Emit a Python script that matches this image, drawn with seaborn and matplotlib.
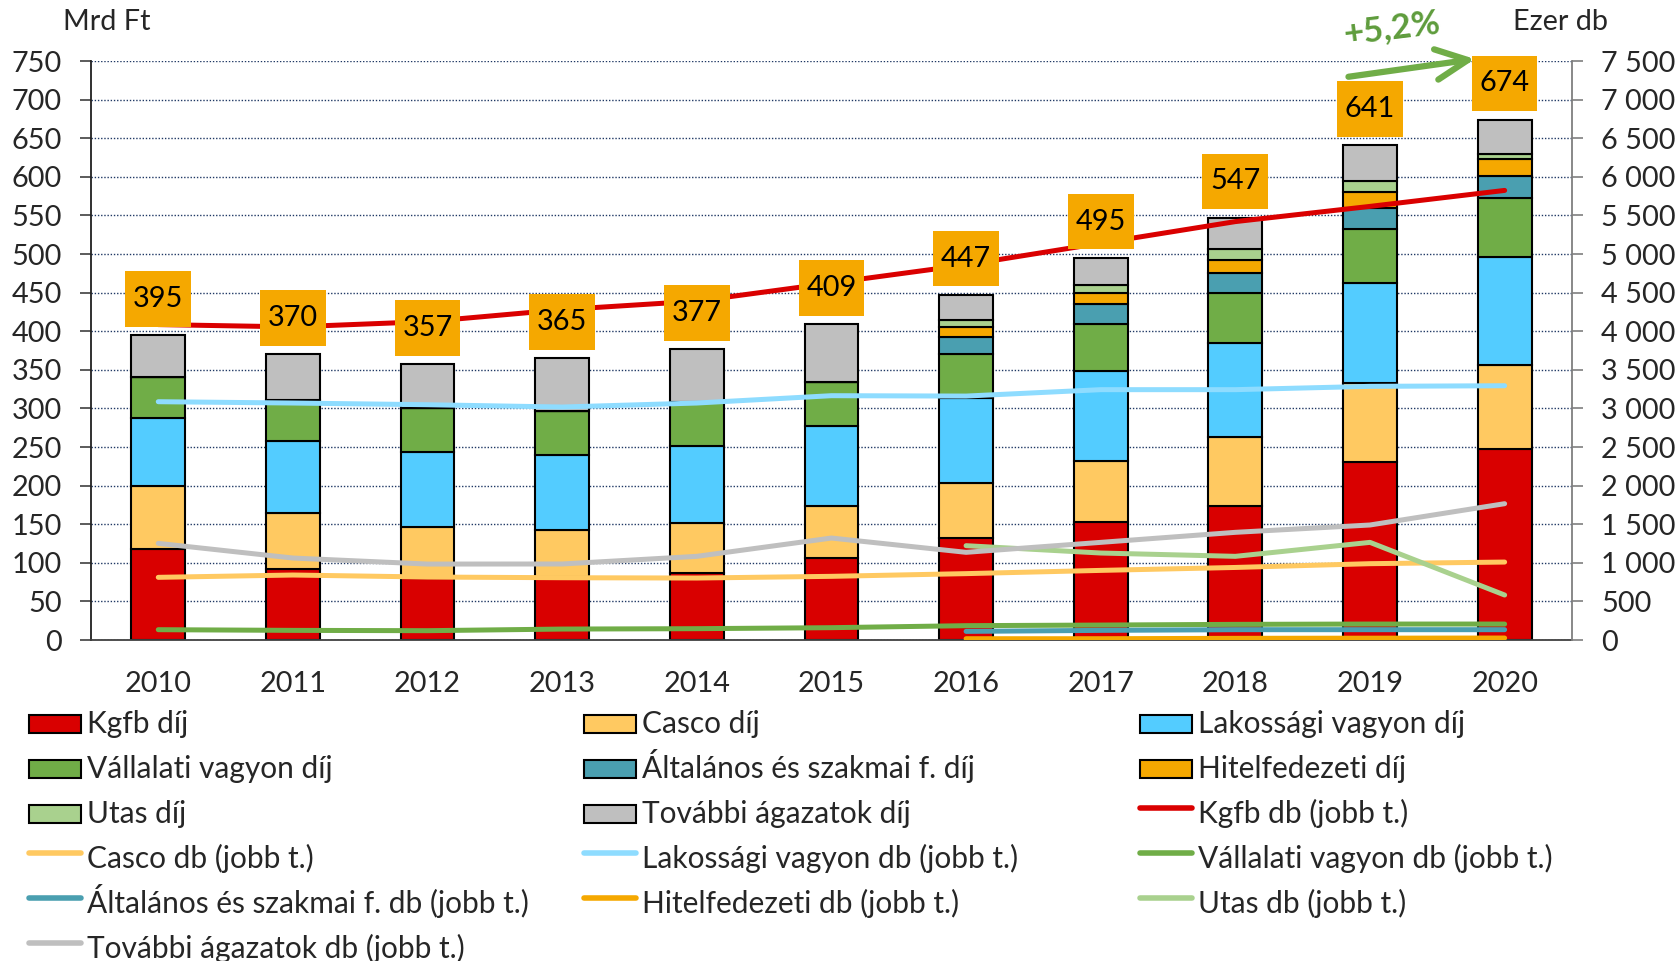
import numpy as np
import matplotlib
matplotlib.use("Agg")
import matplotlib.pyplot as plt
import seaborn as sns
from matplotlib.patches import Patch, Rectangle
from matplotlib.lines import Line2D
from matplotlib.legend_handler import HandlerPatch
from matplotlib.ticker import FuncFormatter

# ---------------- data ----------------
years = ["2010", "2011", "2012", "2013", "2014", "2015", "2016", "2017", "2018", "2019", "2020"]

# premiums (Mrd Ft), stacked bars
kgfb_dij = [118, 92, 80, 82, 87, 106, 132, 153, 173, 230, 247]
casco_dij = [82, 72, 66, 61, 64, 67, 71, 79, 90, 103, 109]
lak_dij = [88, 94, 97, 97, 100, 104, 111, 116, 122, 129, 140]
vall_dij = [53, 53, 57, 57, 57, 57, 57, 62, 65, 71, 77]
alt_dij = [0, 0, 0, 0, 0, 0, 22, 25, 25, 27, 28]
hitel_dij = [0, 0, 0, 0, 0, 0, 12, 14, 17, 20, 22]
utas_dij = [0, 0, 0, 0, 0, 0, 10, 11, 14, 15, 6]
tov_dij = [54, 59, 57, 68, 69, 75, 32, 35, 41, 46, 45]
totals = [395, 370, 357, 365, 377, 409, 447, 495, 547, 641, 674]

# contract counts (ezer db), right axis
nan = np.nan
kgfb_db = [4086, 4056, 4125, 4280, 4390, 4625, 4860, 5140, 5420, 5617, 5824]
casco_db = [812, 842, 816, 807, 803, 825, 860, 902, 940, 989, 1010]
lak_db = [3087, 3070, 3048, 3018, 3070, 3165, 3160, 3243, 3243, 3286, 3294]
vall_db = [134, 125, 121, 142, 147, 160, 186, 194, 203, 207, 207]
alt_db = [nan, nan, nan, nan, nan, nan, 112, 125, 134, 134, 134]
hitel_db = [nan, nan, nan, nan, nan, nan, 17, 17, 22, 24, 26]
utas_db = [nan, nan, nan, nan, nan, nan, 1222, 1127, 1084, 1265, 583]
tov_db = [1252, 1062, 984, 985, 1084, 1321, 1136, 1265, 1395, 1490, 1766]

bar_labels = ["Kgfb díj", "Casco díj", "Lakossági vagyon díj", "Vállalati vagyon díj",
              "Általános és szakmai f. díj", "Hitelfedezeti díj", "Utas díj", "További ágazatok díj"]
line_labels = ["Kgfb db (jobb t.)", "Casco db (jobb t.)", "Lakossági vagyon db (jobb t.)",
               "Vállalati vagyon db (jobb t.)", "Általános és szakmai f. db (jobb t.)",
               "Hitelfedezeti db (jobb t.)", "Utas db (jobb t.)", "További ágazatok db (jobb t.)"]

bar_series = [kgfb_dij, casco_dij, lak_dij, vall_dij, alt_dij, hitel_dij, utas_dij, tov_dij]
line_series = [kgfb_db, casco_db, lak_db, vall_db, alt_db, hitel_db, utas_db, tov_db]

bar_colors = ["#D90000", "#FFC961", "#53CCFF", "#70AD47", "#4A9FB0", "#F5A800", "#A9D18E", "#BFBFBF"]
line_colors = ["#DA0000", "#FFC961", "#8EDCFF", "#70AD47", "#4A9FB0", "#F5A800", "#A9D18E", "#BFBFBF"]

# ---------------- style ----------------
sns.set_style("white")
plt.rcParams["font.family"] = ["Lato", "DejaVu Sans"]
FS = 20.8
LFS = 21.5

fig = plt.figure(figsize=(16.78, 9.61), dpi=100)
ax = fig.add_axes([0.0542, 0.334, 0.8826, 0.6025])

bottom = np.zeros(len(years))
for vals, col in zip(bar_series, bar_colors):
    sns.barplot(x=years, y=vals, bottom=bottom.copy(), color=col, width=0.4,
                saturation=1, edgecolor="black", linewidth=1.5, errorbar=None,
                ax=ax, zorder=2)
    bottom += np.array(vals, dtype=float)

ax.set_xlim(-0.5, len(years) - 0.5)
ax.set_ylim(0, 750)
ax.set_yticks(range(0, 751, 50))
ax.set_xlabel("")
ax.set_ylabel("")
ax.set_axisbelow(True)
ax.yaxis.grid(True, linestyle=(0, (1, 1.3)), color="#1F3864", lw=1.0)
ax.xaxis.grid(False)

ax.set_xticks(range(len(years)))
ax.set_xticklabels(years)
ax.set_xticks(np.arange(-0.5, len(years), 1.0), minor=True)
ax.tick_params(axis="x", which="major", length=0, pad=22, labelsize=FS)
ax.tick_params(axis="x", which="minor", length=8, width=1.2, color="#404040", direction="out")
ax.tick_params(axis="y", length=8, width=1.2, color="#404040", direction="out", pad=13, labelsize=FS, left=True)

for s in ["top", "right"]:
    ax.spines[s].set_visible(False)
ax.spines["left"].set_color("#202020")
ax.spines["left"].set_linewidth(1.3)
ax.spines["bottom"].set_color("#404040")
ax.spines["bottom"].set_linewidth(1.3)

ax2 = ax.twinx()
xs = np.arange(len(years))
for vals, col in zip(line_series, line_colors):
    sns.lineplot(x=xs, y=vals, color=col, lw=3.6, ax=ax2, estimator=None,
                 errorbar=None, solid_capstyle="round")
ax2.set_ylim(0, 7500)
ax2.set_yticks(range(0, 7501, 500))
ax2.yaxis.set_major_formatter(FuncFormatter(lambda v, p: f"{int(v):,}".replace(",", " ")))
ax2.set_ylabel("")
ax2.tick_params(axis="y", length=8, width=1.2, color="#7F7F7F", direction="out", pad=13, labelsize=FS, right=True)
for s in ["top", "left", "bottom"]:
    ax2.spines[s].set_visible(False)
ax2.spines["right"].set_color("#7F7F7F")
ax2.spines["right"].set_linewidth(1.3)
ax2.grid(False)
ax2.set_xlim(-0.5, len(years) - 0.5)

# total labels
for i, t in enumerate(totals):
    ax2.text(i, t + 47, str(t), transform=ax.transData, ha="center", va="center",
             fontsize=FS, color="black", zorder=10,
             bbox=dict(boxstyle="square,pad=0.27", fc="#F5A800", ec="none", mutation_aspect=1.9))

# growth arrow and label
ax2.annotate("", xy=(9.78, 752.6), xytext=(8.84, 729.6),
             xycoords=ax.transData, textcoords=ax.transData, annotation_clip=False,
             arrowprops=dict(arrowstyle="->,head_length=2.3,head_width=1.1", mutation_scale=10,
                             color="#70AD47", lw=4.5, shrinkA=0, shrinkB=0,
                             capstyle="round", joinstyle="round"))
ax2.text(9.16, 793, "+5,2%", transform=ax.transData, rotation=7, fontsize=25,
         fontweight="bold", color="#5E9C3C", ha="center", va="center", clip_on=False)

# axis titles
fig.text(63 / 1678, 1 - 22 / 961, "Mrd Ft", ha="left", va="center", fontsize=FS)
fig.text(1513 / 1678, 1 - 22 / 961, "Ezer db", ha="left", va="center", fontsize=FS)


# legend (row-major, 3 columns)
def small_rect(legend, orig_handle, xdescent, ydescent, width, height, fontsize):
    h = 13.0
    return Rectangle((-xdescent, -ydescent + (height - h) / 2.0), width, h)


handles = [Patch(facecolor=c, edgecolor="black", lw=1.5) for c in bar_colors] + \
          [Line2D([], [], color=c, lw=4, solid_capstyle="round") for c in line_colors]
labels = bar_labels + line_labels
hmap = {Patch: HandlerPatch(patch_func=small_rect)}
col_x = [29, 584, 1140]
for k, xp in enumerate(col_x):
    fig.legend(handles=handles[k::3], labels=labels[k::3], loc="upper left",
               bbox_to_anchor=(xp / 1678, 1 - 702 / 961), frameon=False, fontsize=LFS,
               handlelength=1.75, handleheight=1.85, handletextpad=0.2,
               labelspacing=0.06, borderpad=0, borderaxespad=0, handler_map=hmap)

fig.savefig("out.png", dpi=100)
